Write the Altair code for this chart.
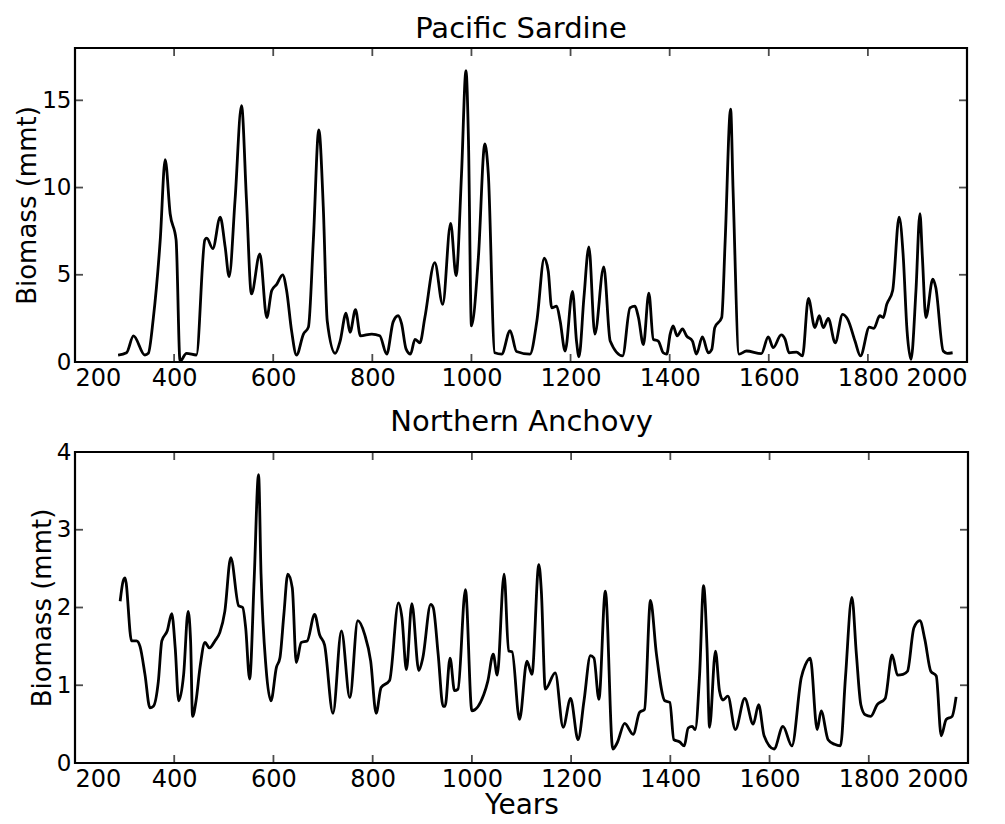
import altair as alt
import pandas as pd

# ---------------- data ----------------
sardine_years = [287, 304, 318, 341, 348, 358, 372, 382, 392, 404, 412, 425, 445, 462, 466,
                 478, 493, 503, 511, 523, 536, 546, 556, 573, 587, 597, 607, 619, 627, 637,
                 647, 661, 671, 681, 692, 701, 709, 725, 735, 747, 755, 766, 776, 799, 815,
                 829, 842, 852, 859, 868, 877, 886, 896, 906, 926, 942, 958, 969, 980, 989,
                 994, 1000, 1014, 1027, 1034, 1047, 1061, 1078, 1091, 1118, 1132, 1147, 1155,
                 1162, 1172, 1179, 1189, 1204, 1212, 1217, 1227, 1237, 1249, 1267, 1280, 1305,
                 1320, 1330, 1337, 1347, 1358, 1367, 1377, 1387, 1394, 1401, 1407, 1415, 1426,
                 1434, 1446, 1454, 1466, 1478, 1485, 1491, 1505, 1512, 1523, 1528, 1540, 1555,
                 1585, 1599, 1609, 1625, 1633, 1641, 1656, 1668, 1680, 1693, 1702, 1710, 1720,
                 1734, 1749, 1760, 1774, 1785, 1803, 1812, 1824, 1831, 1838, 1850, 1863, 1871,
                 1879, 1887, 1897, 1905, 1910, 1917, 1931, 1937, 1952, 1960, 1971]
sardine_biomass = [0.4, 0.53, 1.5, 0.4, 0.5, 2.5, 7.0, 11.6, 8.5, 7.0, 0.05, 0.5, 0.4, 7.0, 7.1,
                   6.5, 8.3, 6.6, 4.9, 9.3, 14.7, 9.3, 3.9, 6.2, 2.55, 4.1, 4.45, 5.0, 4.1, 1.8,
                   0.4, 1.6, 2.0, 7.0, 13.3, 8.9, 2.35, 0.5, 1.2, 2.8, 1.7, 3.0, 1.5, 1.6, 1.5,
                   0.45, 2.3, 2.65, 2.2, 0.75, 0.45, 1.3, 1.1, 2.55, 5.7, 3.3, 7.95, 4.95, 10.8, 16.7,
                   12.7, 2.07, 6.0, 12.5, 10.8, 0.53, 0.45, 1.8, 0.6, 0.45, 2.35, 5.95, 5.2,
                   3.1, 3.2, 2.35, 0.63, 4.05, 1.2, 0.3, 3.7, 6.6, 1.6, 5.45, 1.2, 0.35,
                   3.1, 3.2, 2.55, 1.0, 3.95, 1.3, 1.2, 0.53, 0.45, 1.6, 2.07, 1.5, 1.9,
                   1.5, 1.2, 0.45, 1.44, 0.53, 0.73, 1.97, 2.55, 6.95, 14.5, 9.8, 0.45, 0.63,
                   0.48, 1.44, 0.82, 1.55, 1.3, 0.53, 0.57, 0.35, 3.65, 1.97, 2.65, 1.97, 2.5,
                   1.1, 2.73, 2.4, 1.2, 0.35, 2.0, 1.93, 2.65, 2.55, 3.3, 4.1, 8.3, 6.2,
                   1.8, 0.15, 4.1, 8.5, 6.0, 2.55, 4.75, 4.27, 0.63, 0.5, 0.53]

anchovy_years = [291, 297, 301, 314, 324, 331, 341, 351, 358, 368, 375, 386, 395, 402, 409,
                 419, 428, 433, 437, 444, 452, 462, 471, 482, 492, 502, 514, 530, 538, 544,
                 552, 561, 570, 575, 585, 595, 606, 613, 621, 629, 638, 646, 656, 668, 683,
                 693, 703, 720, 737, 754, 770, 784, 796, 807, 817, 834, 852, 859, 868, 879,
                 893, 901, 917, 922, 932, 942, 946, 956, 965, 972, 987, 1000, 1024, 1032, 1043,
                 1051, 1065, 1074, 1081, 1096, 1111, 1121, 1135, 1140, 1148, 1168, 1184, 1199,
                 1214, 1226, 1239, 1246, 1256, 1269, 1284, 1293, 1308, 1325, 1338, 1348, 1360,
                 1372, 1389, 1399, 1407, 1419, 1428, 1436, 1444, 1450, 1459, 1467, 1474, 1479,
                 1491, 1499, 1506, 1516, 1531, 1550, 1567, 1578, 1589, 1609, 1627, 1645, 1664,
                 1672, 1682, 1696, 1704, 1718, 1731, 1743, 1753, 1766, 1775, 1784, 1793, 1804,
                 1817, 1833, 1847, 1858, 1869, 1878, 1891, 1903, 1913, 1925, 1936, 1946, 1956,
                 1968, 1976]
anchovy_biomass = [2.08, 2.34, 2.38, 1.57, 1.57, 1.5, 1.14, 0.71, 0.73, 1.05, 1.57, 1.7, 1.92, 1.48, 0.8,
                   1.14, 1.95, 1.57, 0.6, 0.8, 1.23, 1.55, 1.48, 1.57, 1.68, 1.95, 2.64, 2.02, 2.0, 1.74,
                   1.08, 2.34, 3.71, 2.43, 1.23, 0.8, 1.23, 1.35, 1.91, 2.43, 2.25, 1.29, 1.55, 1.57, 1.91,
                   1.65, 1.52, 0.64, 1.7, 0.84, 1.83, 1.65, 1.31, 0.64, 0.97, 1.06, 2.06, 1.87, 1.2, 2.05,
                   1.19, 1.35, 2.04, 2.0, 1.4, 0.73, 0.73, 1.35, 0.93, 0.95, 2.23, 0.67, 0.88, 1.05, 1.4,
                   1.13, 2.43, 1.44, 1.43, 0.56, 1.31, 1.14, 2.55, 2.21, 0.95, 1.16, 0.46, 0.83,
                   0.3, 0.8, 1.38, 1.35, 0.82, 2.21, 0.18, 0.26, 0.51, 0.37, 0.65, 0.69, 2.09,
                   1.4, 0.8, 0.78, 0.3, 0.27, 0.22, 0.45, 0.47, 0.43, 1.14, 2.28, 1.48, 0.46,
                   1.44, 0.93, 0.81, 0.86, 0.43, 0.83, 0.5, 0.75, 0.35, 0.18, 0.47, 0.22, 1.1,
                   1.26, 1.35, 0.43, 0.67, 0.3, 0.24, 0.22, 1.1, 2.13, 1.4, 0.75, 0.62, 0.6,
                   0.75, 0.83, 1.39, 1.13, 1.14, 1.18, 1.74, 1.83, 1.59, 1.18, 1.12, 0.35, 0.56,
                   0.6, 0.85]

x_tick_values = [200, 400, 600, 800, 1000, 1200, 1400, 1600, 1800, 2000]
sardine_y_ticks = [0, 5, 10, 15]
anchovy_y_ticks = [0, 1, 2, 3, 4]

X_DOMAIN = [200, 2000]
FONT = "DejaVu Sans"


def panel(years, values, title, ymax, yticks, w, h, xtitle):
    df = pd.DataFrame({"Year": years, "Biomass": values})
    xs = alt.Scale(domain=X_DOMAIN, nice=False, zero=False)
    ys = alt.Scale(domain=[0, ymax], nice=False)
    xaxis_kw = dict(values=x_tick_values, format="d", ticks=False, domain=False, grid=False,
                    labelPadding=4, labelFontSize=24, labelFont=FONT, labelColor="black",
                    titleFont=FONT, titleFontSize=28, titleFontWeight="normal", titleColor="black",
                    titlePadding=0, labelOverlap=False)
    if xtitle:
        xaxis = alt.Axis(title=xtitle, **xaxis_kw)
    else:
        xaxis = alt.Axis(title=None, **xaxis_kw)
    yaxis = alt.Axis(values=yticks, format="d", ticks=False, domain=False, grid=False,
                     labelPadding=4, labelFontSize=23, labelFont=FONT, labelColor="black",
                     titleFont=FONT, titleFontSize=26, titleFontWeight="normal", titleColor="black",
                     titlePadding=1, title="Biomass (mmt)")
    line = alt.Chart(df).mark_line(color="black", strokeWidth=2.8, interpolate="monotone").encode(
        x=alt.X("Year:Q", scale=xs, axis=xaxis),
        y=alt.Y("Biomass:Q", scale=ys, axis=yaxis),
    )
    xt = pd.DataFrame({"Year": x_tick_values[1:-1]})
    yt = pd.DataFrame({"Biomass": [v for v in yticks if 0 < v < ymax]})
    tick_style = dict(color="black", size=16, thickness=1.8, clip=True)
    t_bottom = alt.Chart(xt).mark_tick(orient="vertical", **tick_style).encode(
        x=alt.X("Year:Q", scale=xs), y=alt.datum(0))
    t_top = alt.Chart(xt).mark_tick(orient="vertical", **tick_style).encode(
        x=alt.X("Year:Q", scale=xs), y=alt.datum(ymax))
    t_left = alt.Chart(yt).mark_tick(orient="horizontal", **tick_style).encode(
        y=alt.Y("Biomass:Q", scale=ys), x=alt.datum(X_DOMAIN[0]))
    t_right = alt.Chart(yt).mark_tick(orient="horizontal", **tick_style).encode(
        y=alt.Y("Biomass:Q", scale=ys), x=alt.datum(X_DOMAIN[1]))
    return alt.layer(line, t_bottom, t_top, t_left, t_right).properties(
        width=w, height=h,
        title=alt.TitleParams(title, fontSize=29, font=FONT, fontWeight="normal", offset=4, color="black"),
    )


top = panel(sardine_years, sardine_biomass, "Pacific Sardine", 18, sardine_y_ticks, 892, 314, None)
bottom = panel(anchovy_years, anchovy_biomass, "Northern Anchovy", 4, anchovy_y_ticks, 893, 311, "Years")

chart = alt.vconcat(
    top, bottom, spacing=14, background="white",
    padding={"left": 5, "top": 5, "right": 5, "bottom": 0},
).configure_view(
    stroke="black", strokeWidth=2.2
)

chart.save("out.html", embed_options={"renderer": "svg", "actions": False})
